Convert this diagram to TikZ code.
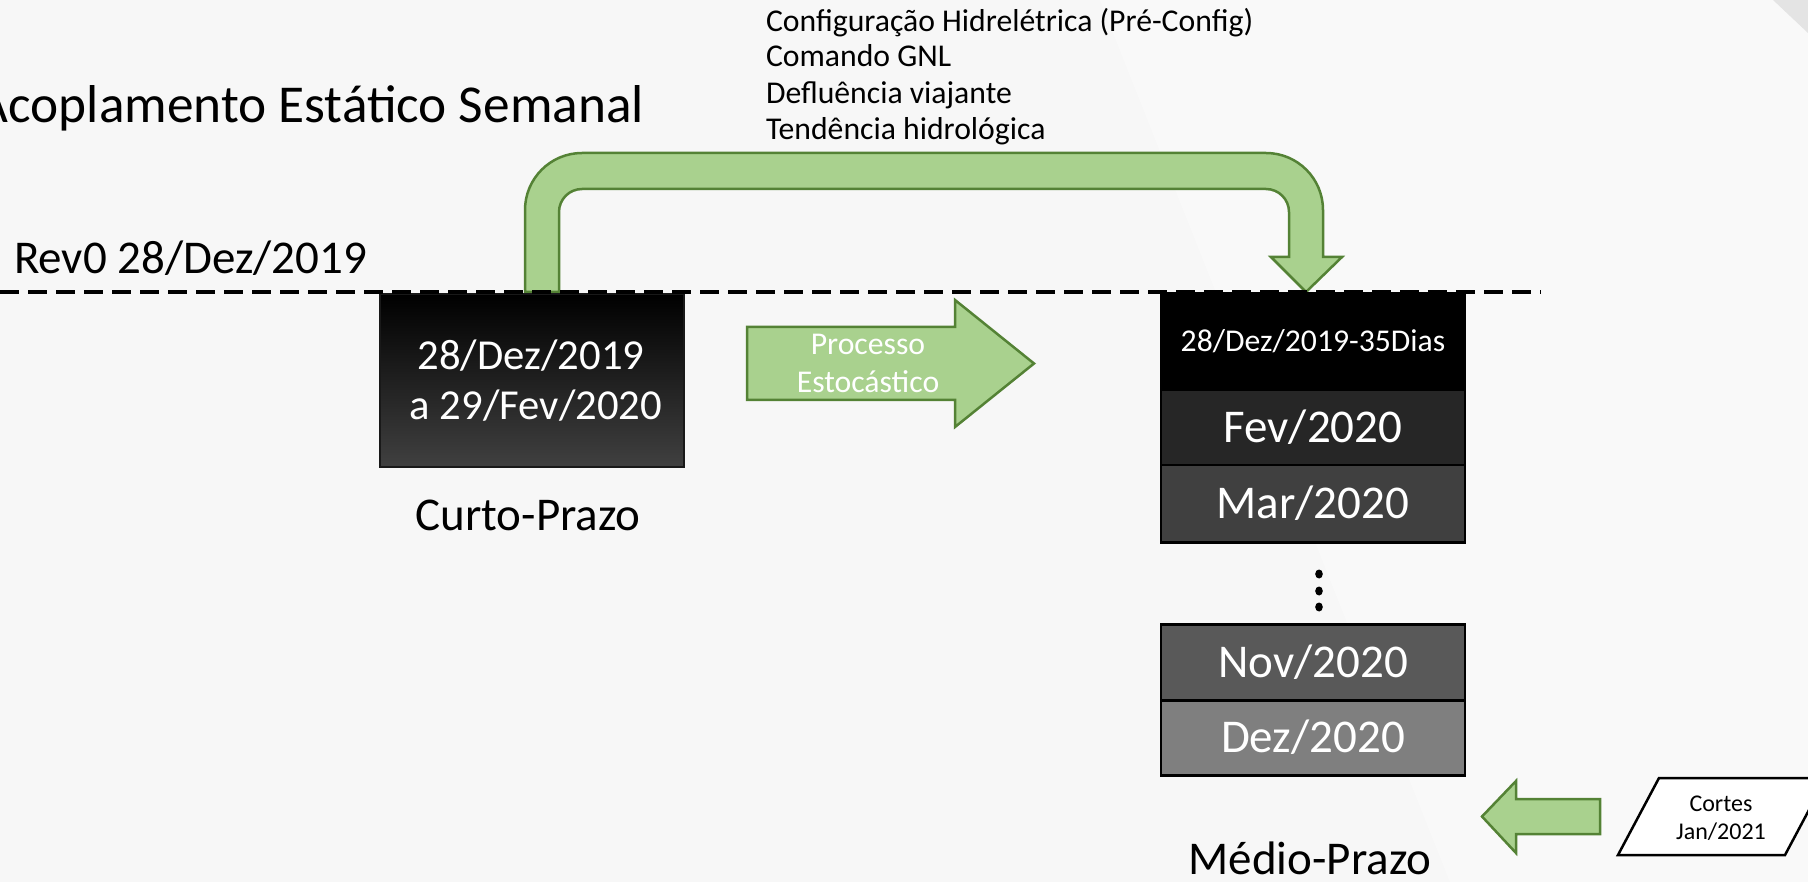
\documentclass[tikz,border=0pt]{standalone}
\usepackage{fontspec}
\setmainfont{Carlito}
\definecolor{bgc}{HTML}{F7F7F7}
\definecolor{cornergray}{HTML}{E4E4E4}
\definecolor{gfill}{HTML}{A9D18E}
\definecolor{gline}{HTML}{548235}
\definecolor{rowa}{HTML}{000000}
\definecolor{rowb}{HTML}{262626}
\definecolor{rowc}{HTML}{404040}
\definecolor{rowd}{HTML}{595959}
\definecolor{rowe}{HTML}{7F7F7F}
\begin{document}
\begin{tikzpicture}[x=1pt,y=1pt,
  txt/.style={inner sep=0pt,outer sep=0pt},
  big/.style={font=\fontsize{47}{56}\selectfont},
  mid/.style={font=\fontsize{42.7}{51}\selectfont},
  small/.style={font=\fontsize{31.7}{38}\selectfont},
  tiny/.style={font=\fontsize{24}{29}\selectfont},
  greenshape/.style={fill=gfill,draw=gline,line width=2.5pt,line join=miter},
  rowbox/.style={draw=black,line width=2.5pt,minimum width=304pt,inner sep=0pt,
     text=white,anchor=north,big,text height=30.3pt,text depth=0pt},
]
\useasboundingbox (0,0) rectangle (1808,-882);
% background
\fill[bgc] (0,0) rectangle (1808,-882);
\fill[white,opacity=0.35] (1100,0) -- (1773,0) -- (1808,-33) -- (1808,-882) -- (1450,-882) -- cycle;
\fill[cornergray] (1773,0) -- (1808,0) -- (1808,-33) -- cycle;

% titles
\node[txt,anchor=base east,font=\fontsize{53.3}{64}\selectfont] (title) at (644,-123) {Acoplamento Estático Semanal};
\node[txt,anchor=base west,big] (rev) at (14,-274) {Rev0 28/Dez/2019};

% list of items
\node[txt,anchor=base west,small] (l1) at (766,-31.7) {Configuração Hidrelétrica (Pré-Config)};
\node[txt,anchor=base west,small] (l2) at (766,-66.7) {Comando GNL};
\node[txt,anchor=base west,small] (l3) at (766,-103.3) {Defluência viajante};
\node[txt,anchor=base west,small] (l4) at (766,-140) {Tendência hidrológica};

% U-turn green arrow
\draw[greenshape] (525,-292) -- (525,-210) arc[start angle=180,end angle=90,radius=57]
  -- (1266,-153) arc[start angle=90,end angle=0,radius=57]
  -- (1323,-257) -- (1342,-257) -- (1306,-292) -- (1271,-257) -- (1289,-257)
  -- (1289,-212) arc[start angle=0,end angle=90,radius=23]
  -- (582,-189) arc[start angle=90,end angle=180,radius=23]
  -- (559,-292) -- cycle;

% Curto-prazo box
\node[draw=black!90,line width=2pt,top color=black,bottom color=rowc,
  minimum width=304pt,minimum height=173pt,anchor=north,inner sep=0pt] (curto) at (532,-293) {};
\node[txt,anchor=base,mid,text=white] (c1) at (531,-370) {28/Dez/2019};
\node[txt,anchor=base,mid,text=white] (c2) at (536,-420) {a 29/Fev/2020};
\node[txt,anchor=base,big] (curtolab) at (528,-530) {Curto-Prazo};

% Processo estocastico arrow
\draw[greenshape] (747,-327) -- (955,-327) -- (955,-300) -- (1034,-363.5)
  -- (955,-427) -- (955,-400) -- (747,-400) -- cycle;
\node[txt,anchor=base,small,text=white] (p1) at (868,-355) {Processo};
\node[txt,anchor=base,small,text=white] (p2) at (868,-393) {Estocástico};

% Medio-prazo stack
\node[rowbox,fill=rowa,minimum height=97pt,small,text height=20.4pt] (r1) at (1313,-292) {28/Dez/2019-35Dias};
\node[rowbox,fill=rowb,minimum height=75pt] (r2) at (1313,-389) {Fev/2020};
\node[rowbox,fill=rowc,minimum height=77pt] (r3) at (1313,-464) {Mar/2020};
\fill (1319,-574) ellipse (3.8 and 4.5);
\fill (1319,-591) ellipse (3.8 and 4.5);
\fill (1319,-607) ellipse (3.8 and 4.5);
\node[rowbox,fill=rowd,minimum height=76pt] (r4) at (1313,-623) {Nov/2020};
\node[rowbox,fill=rowe,minimum height=75pt] (r5) at (1313,-699) {Dez/2020};
\node[txt,anchor=base,big] (mediolab) at (1310,-874) {Médio-Prazo};

% Cortes
\draw[greenshape] (1482,-816.5) -- (1516,-781) -- (1516,-799) -- (1600,-799)
  -- (1600,-834) -- (1516,-834) -- (1516,-853) -- cycle;
\draw[line width=2.5pt,fill=white] (1659,-778) -- (1826,-778) -- (1785,-855) -- (1618,-855) -- cycle;
\node[txt,anchor=base,tiny] (k1) at (1721,-811) {Cortes};
\node[txt,anchor=base,tiny] (k2) at (1721,-839) {Jan/2021};

% dashed reference line
\coordinate (dl) at (0,-292);
\coordinate (dr) at (1541,-292);
\draw[line width=4pt,dash pattern=on 19pt off 9pt] (dl) -- (dr);
\end{tikzpicture}
\end{document}
